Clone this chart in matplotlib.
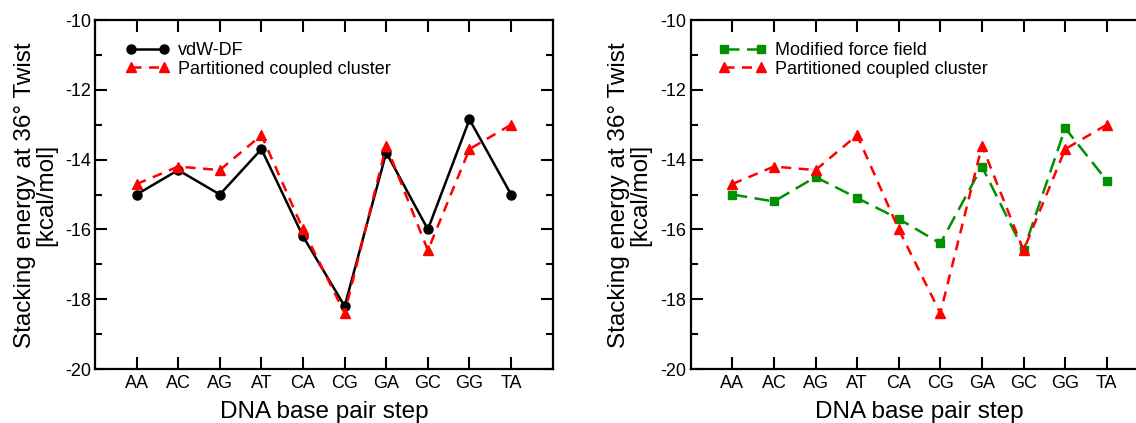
import matplotlib
matplotlib.use("Agg")
import matplotlib.pyplot as plt
from matplotlib.ticker import MultipleLocator

plt.rcParams['font.family'] = ['Liberation Sans', 'DejaVu Sans']
plt.rcParams['axes.unicode_minus'] = False

steps = ['AA', 'AC', 'AG', 'AT', 'CA', 'CG', 'GA', 'GC', 'GG', 'TA']
vdw_df = [-15.0, -14.3, -15.0, -13.7, -16.2, -18.2, -13.8, -16.0, -12.85, -15.0]
pcc = [-14.7, -14.2, -14.3, -13.3, -16.0, -18.4, -13.6, -16.6, -13.7, -13.0]
modified_ff = [-15.0, -15.2, -14.5, -15.1, -15.7, -16.4, -14.2, -16.6, -13.1, -14.6]

W, H = 1136, 423
fig = plt.figure(figsize=(W / 100, H / 100), dpi=100)

# axes boxes in pixels: left, top, width, height
ax_w, ax_h = 457.7, 349
ax1 = fig.add_axes([95 / W, 1 - (20 + ax_h) / H, ax_w / W, ax_h / H])
ax2 = fig.add_axes([690.7 / W, 1 - (20 + ax_h) / H, ax_w / W, ax_h / H])

x = list(range(len(steps)))
red = '#ff0000'
green = '#009000'

ax1.plot(x, vdw_df, color='black', lw=1.8, marker='o', ms=6.5, label='vdW-DF')
ax1.plot(x, pcc, color=red, lw=1.8, dashes=(4, 3), marker='^', ms=7.5,
         label='Partitioned coupled cluster')

ax2.plot(x, modified_ff, color=green, lw=1.8, dashes=(6, 3), marker='s', ms=6,
         label='Modified force field')
ax2.plot(x, pcc, color=red, lw=1.8, dashes=(4, 3), marker='^', ms=7.5,
         label='Partitioned coupled cluster')

for ax, lx, hl in [(ax1, 0.066, 2.45), (ax2, 0.061, 2.65)]:
    ax.set_xlim(-1, 10)
    ax.set_ylim(-20, -10)
    ax.set_xticks(x)
    ax.set_xticklabels(steps)
    ax.yaxis.set_major_locator(MultipleLocator(2))
    ax.yaxis.set_minor_locator(MultipleLocator(1))
    ax.tick_params(which='both', direction='in', top=True, right=True, width=1.5,
                   labelsize=13)
    ax.tick_params(which='major', length=8.5)
    ax.tick_params(which='minor', length=5)
    ax.tick_params(axis='y', pad=3)
    ax.tick_params(axis='x', pad=4)
    for s in ax.spines.values():
        s.set_linewidth(1.6)
    ax.set_xlabel('DNA base pair step', fontsize=17.5, labelpad=6.5)
    ax.legend(loc='upper left', bbox_to_anchor=(lx, 0.936), frameon=False,
              fontsize=13, numpoints=2, handlelength=hl, handletextpad=0.45,
              labelspacing=0.08, borderpad=0, borderaxespad=0)

ylab = 'Stacking energy at 36° Twist\n[kcal/mol]'
fig.text(36 / W, 1 - 195 / H, ylab, rotation=90, ha='center', va='center',
         multialignment='center', fontsize=17.5, linespacing=0.95)
fig.text(629.5 / W, 1 - 195 / H, ylab, rotation=90, ha='center', va='center',
         multialignment='center', fontsize=17.5, linespacing=0.95)

fig.savefig('out.png', dpi=100)
